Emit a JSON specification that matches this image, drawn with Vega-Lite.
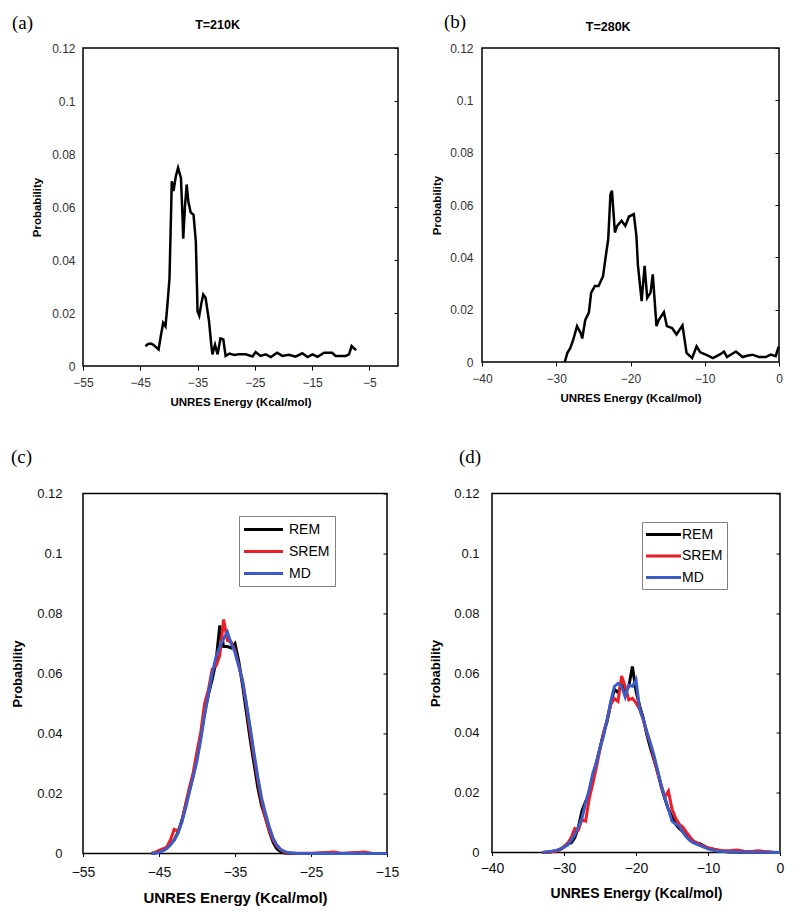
{
  "$schema": "https://vega.github.io/schema/vega-lite/v6.json",
  "padding": {"left": 10, "top": 12, "right": 5, "bottom": 5},
  "background": "white",
  "config": {
    "font": "Liberation Sans",
    "view": {"stroke": "black", "strokeWidth": 1.5},
    "axis": {"grid": false, "domain": false, "labelFont": "Liberation Sans", "titleFont": "Liberation Sans", "titleFontWeight": "bold", "titleColor": "black", "tickColor": "black", "labelFlush": false},
    "title": {"font": "Liberation Serif", "fontSize": 19, "fontWeight": "normal", "anchor": "start", "frame": "group", "baseline": "bottom", "color": "black"}
  },
  "datasets": {
    "a": [
      {"x": -44.1, "p": 0.0075}, {"x": -43.6, "p": 0.0083}, {"x": -43.2, "p": 0.0085}, {"x": -42.7, "p": 0.008}, {"x": -42.3, "p": 0.0072}, {"x": -41.8, "p": 0.0062},
      {"x": -41.4, "p": 0.0115}, {"x": -41.0, "p": 0.0163}, {"x": -40.6, "p": 0.015}, {"x": -40.3, "p": 0.022}, {"x": -39.9, "p": 0.033}, {"x": -39.6, "p": 0.06},
      {"x": -39.5, "p": 0.0697}, {"x": -39.2, "p": 0.066}, {"x": -38.8, "p": 0.0715}, {"x": -38.4, "p": 0.0748}, {"x": -37.9, "p": 0.071}, {"x": -37.6, "p": 0.055},
      {"x": -37.5, "p": 0.048}, {"x": -37.2, "p": 0.06}, {"x": -36.9, "p": 0.0685}, {"x": -36.6, "p": 0.062}, {"x": -36.2, "p": 0.058}, {"x": -35.7, "p": 0.057},
      {"x": -35.3, "p": 0.047}, {"x": -35.1, "p": 0.03}, {"x": -35.0, "p": 0.0207}, {"x": -34.7, "p": 0.019}, {"x": -34.3, "p": 0.024}, {"x": -34.0, "p": 0.027},
      {"x": -33.6, "p": 0.0258}, {"x": -33.0, "p": 0.017}, {"x": -32.6, "p": 0.008}, {"x": -32.4, "p": 0.0044}, {"x": -31.95, "p": 0.008}, {"x": -31.5, "p": 0.0044},
      {"x": -31.0, "p": 0.0104}, {"x": -30.5, "p": 0.01}, {"x": -30.1, "p": 0.0038}, {"x": -29.4, "p": 0.0047}, {"x": -28.6, "p": 0.0042}, {"x": -27.8, "p": 0.0044},
      {"x": -26.6, "p": 0.0044}, {"x": -25.4, "p": 0.0036}, {"x": -24.85, "p": 0.0053}, {"x": -24.0, "p": 0.0038}, {"x": -23.1, "p": 0.0044}, {"x": -22.2, "p": 0.0034},
      {"x": -21.1, "p": 0.005}, {"x": -20.2, "p": 0.0038}, {"x": -19.0, "p": 0.0042}, {"x": -17.9, "p": 0.0035}, {"x": -16.7, "p": 0.0048}, {"x": -15.8, "p": 0.0034},
      {"x": -14.95, "p": 0.0044}, {"x": -14.05, "p": 0.0035}, {"x": -12.9, "p": 0.005}, {"x": -11.5, "p": 0.005}, {"x": -10.9, "p": 0.0038}, {"x": -9.15, "p": 0.0038},
      {"x": -8.55, "p": 0.0044}, {"x": -8.1, "p": 0.0075}, {"x": -7.7, "p": 0.0067}, {"x": -7.3, "p": 0.006}
    ],
    "b": [
      {"x": -28.85, "p": 0}, {"x": -28.5, "p": 0.0035}, {"x": -28.1, "p": 0.0054}, {"x": -27.7, "p": 0.0086}, {"x": -27.2, "p": 0.0137}, {"x": -26.7, "p": 0.011},
      {"x": -26.5, "p": 0.009}, {"x": -26.1, "p": 0.016}, {"x": -25.6, "p": 0.019}, {"x": -25.3, "p": 0.0265}, {"x": -24.8, "p": 0.029}, {"x": -24.3, "p": 0.029},
      {"x": -23.7, "p": 0.0328}, {"x": -23.4, "p": 0.039}, {"x": -23.0, "p": 0.047}, {"x": -22.7, "p": 0.064}, {"x": -22.5, "p": 0.0655}, {"x": -22.1, "p": 0.0495},
      {"x": -21.8, "p": 0.052}, {"x": -21.2, "p": 0.054}, {"x": -20.7, "p": 0.052}, {"x": -20.2, "p": 0.0556}, {"x": -19.55, "p": 0.0565}, {"x": -19.2, "p": 0.048},
      {"x": -19.0, "p": 0.037}, {"x": -18.5, "p": 0.0233}, {"x": -18.1, "p": 0.0367}, {"x": -17.75, "p": 0.0245}, {"x": -17.3, "p": 0.0265}, {"x": -17.0, "p": 0.0335},
      {"x": -16.5, "p": 0.0137}, {"x": -16.2, "p": 0.016}, {"x": -15.5, "p": 0.019}, {"x": -15.1, "p": 0.0137}, {"x": -14.4, "p": 0.013}, {"x": -13.8, "p": 0.0105},
      {"x": -13.0, "p": 0.014}, {"x": -12.45, "p": 0.0035}, {"x": -11.7, "p": 0.0015}, {"x": -11.1, "p": 0.006}, {"x": -10.6, "p": 0.0037}, {"x": -9.7, "p": 0.0026},
      {"x": -8.9, "p": 0.0015}, {"x": -7.9, "p": 0.003}, {"x": -7.4, "p": 0.004}, {"x": -7.0, "p": 0.0019}, {"x": -5.8, "p": 0.004}, {"x": -4.9, "p": 0.0019},
      {"x": -4.3, "p": 0.0024}, {"x": -3.6, "p": 0.0028}, {"x": -2.7, "p": 0.0019}, {"x": -1.8, "p": 0.0019}, {"x": -1.1, "p": 0.0028}, {"x": -0.45, "p": 0.0022},
      {"x": -0.1, "p": 0.0054}, {"x": 0, "p": 0.0058}
    ],
    "c": [
      {"s": "REM", "x": -46, "p": 0}, {"s": "REM", "x": -45.5, "p": 0.0002}, {"s": "REM", "x": -45, "p": 0.0006}, {"s": "REM", "x": -44.5, "p": 0.0012},
      {"s": "REM", "x": -44, "p": 0.002}, {"s": "REM", "x": -43.5, "p": 0.003}, {"s": "REM", "x": -43, "p": 0.0045}, {"s": "REM", "x": -42.5, "p": 0.007},
      {"s": "REM", "x": -42, "p": 0.011}, {"s": "REM", "x": -41.5, "p": 0.016}, {"s": "REM", "x": -41, "p": 0.021}, {"s": "REM", "x": -40.5, "p": 0.026},
      {"s": "REM", "x": -40, "p": 0.032}, {"s": "REM", "x": -39.5, "p": 0.039}, {"s": "REM", "x": -39, "p": 0.047}, {"s": "REM", "x": -38.5, "p": 0.053},
      {"s": "REM", "x": -38, "p": 0.058}, {"s": "REM", "x": -37.5, "p": 0.064}, {"s": "REM", "x": -37, "p": 0.076}, {"s": "REM", "x": -36.5, "p": 0.069},
      {"s": "REM", "x": -36, "p": 0.069}, {"s": "REM", "x": -35.5, "p": 0.0685}, {"s": "REM", "x": -35, "p": 0.07}, {"s": "REM", "x": -34.5, "p": 0.064},
      {"s": "REM", "x": -34, "p": 0.056}, {"s": "REM", "x": -33.5, "p": 0.047}, {"s": "REM", "x": -33, "p": 0.038}, {"s": "REM", "x": -32.5, "p": 0.03},
      {"s": "REM", "x": -32, "p": 0.022}, {"s": "REM", "x": -31.5, "p": 0.016}, {"s": "REM", "x": -31, "p": 0.012}, {"s": "REM", "x": -30.5, "p": 0.0075},
      {"s": "REM", "x": -30, "p": 0.0038}, {"s": "REM", "x": -29.5, "p": 0.0016}, {"s": "REM", "x": -29, "p": 0.0006}, {"s": "REM", "x": -28.5, "p": 0.0002},
      {"s": "REM", "x": -28, "p": 0.0001}, {"s": "REM", "x": -25, "p": 0}, {"s": "REM", "x": -20, "p": 0}, {"s": "REM", "x": -15, "p": 0},
      {"s": "SREM", "x": -46, "p": 0}, {"s": "SREM", "x": -45.5, "p": 0.0004}, {"s": "SREM", "x": -45, "p": 0.001}, {"s": "SREM", "x": -44.5, "p": 0.0015},
      {"s": "SREM", "x": -44, "p": 0.002}, {"s": "SREM", "x": -43.5, "p": 0.0045}, {"s": "SREM", "x": -43, "p": 0.008}, {"s": "SREM", "x": -42.5, "p": 0.0075},
      {"s": "SREM", "x": -42, "p": 0.0105}, {"s": "SREM", "x": -41.5, "p": 0.0165}, {"s": "SREM", "x": -41, "p": 0.022}, {"s": "SREM", "x": -40.5, "p": 0.027},
      {"s": "SREM", "x": -40, "p": 0.034}, {"s": "SREM", "x": -39.5, "p": 0.0405}, {"s": "SREM", "x": -39, "p": 0.05}, {"s": "SREM", "x": -38.5, "p": 0.0545},
      {"s": "SREM", "x": -38, "p": 0.0615}, {"s": "SREM", "x": -37.5, "p": 0.0625}, {"s": "SREM", "x": -37, "p": 0.066}, {"s": "SREM", "x": -36.5, "p": 0.078},
      {"s": "SREM", "x": -36, "p": 0.071}, {"s": "SREM", "x": -35.5, "p": 0.0705}, {"s": "SREM", "x": -35, "p": 0.0675}, {"s": "SREM", "x": -34.5, "p": 0.0625},
      {"s": "SREM", "x": -34, "p": 0.0575}, {"s": "SREM", "x": -33.5, "p": 0.0495}, {"s": "SREM", "x": -33, "p": 0.0405}, {"s": "SREM", "x": -32.5, "p": 0.0325},
      {"s": "SREM", "x": -32, "p": 0.0245}, {"s": "SREM", "x": -31.5, "p": 0.0175}, {"s": "SREM", "x": -31, "p": 0.012}, {"s": "SREM", "x": -30.5, "p": 0.0078},
      {"s": "SREM", "x": -30, "p": 0.0045}, {"s": "SREM", "x": -29.5, "p": 0.0025}, {"s": "SREM", "x": -29, "p": 0.0012}, {"s": "SREM", "x": -28.5, "p": 0.0005},
      {"s": "SREM", "x": -28, "p": 0.0002}, {"s": "SREM", "x": -27, "p": 0.0001}, {"s": "SREM", "x": -25, "p": 0.0001}, {"s": "SREM", "x": -22.5, "p": 0.0004},
      {"s": "SREM", "x": -22, "p": 0.0005}, {"s": "SREM", "x": -21, "p": 0.0001}, {"s": "SREM", "x": -18.5, "p": 0.0004}, {"s": "SREM", "x": -18, "p": 0.0005},
      {"s": "SREM", "x": -17, "p": 0.0001}, {"s": "SREM", "x": -15, "p": 0},
      {"s": "MD", "x": -46, "p": 0}, {"s": "MD", "x": -45.5, "p": 0.0001}, {"s": "MD", "x": -45, "p": 0.0004}, {"s": "MD", "x": -44.5, "p": 0.0009},
      {"s": "MD", "x": -44, "p": 0.0016}, {"s": "MD", "x": -43.5, "p": 0.0028}, {"s": "MD", "x": -43, "p": 0.0045}, {"s": "MD", "x": -42.5, "p": 0.0068},
      {"s": "MD", "x": -42, "p": 0.0105}, {"s": "MD", "x": -41.5, "p": 0.015}, {"s": "MD", "x": -41, "p": 0.0205}, {"s": "MD", "x": -40.5, "p": 0.0255},
      {"s": "MD", "x": -40, "p": 0.031}, {"s": "MD", "x": -39.5, "p": 0.038}, {"s": "MD", "x": -39, "p": 0.046}, {"s": "MD", "x": -38.5, "p": 0.053},
      {"s": "MD", "x": -38, "p": 0.06}, {"s": "MD", "x": -37.5, "p": 0.0655}, {"s": "MD", "x": -37, "p": 0.069}, {"s": "MD", "x": -36.5, "p": 0.0715},
      {"s": "MD", "x": -36, "p": 0.0738}, {"s": "MD", "x": -35.5, "p": 0.07}, {"s": "MD", "x": -35, "p": 0.067}, {"s": "MD", "x": -34.5, "p": 0.0625},
      {"s": "MD", "x": -34, "p": 0.0575}, {"s": "MD", "x": -33.5, "p": 0.05}, {"s": "MD", "x": -33, "p": 0.042}, {"s": "MD", "x": -32.5, "p": 0.0335},
      {"s": "MD", "x": -32, "p": 0.0255}, {"s": "MD", "x": -31.5, "p": 0.0185}, {"s": "MD", "x": -31, "p": 0.0135}, {"s": "MD", "x": -30.5, "p": 0.009},
      {"s": "MD", "x": -30, "p": 0.0052}, {"s": "MD", "x": -29.5, "p": 0.0028}, {"s": "MD", "x": -29, "p": 0.0014}, {"s": "MD", "x": -28.5, "p": 0.0007},
      {"s": "MD", "x": -28, "p": 0.0003}, {"s": "MD", "x": -27, "p": 0.0001}, {"s": "MD", "x": -25, "p": 0}, {"s": "MD", "x": -20, "p": 0}, {"s": "MD", "x": -15, "p": 0}
    ],
    "d": [
      {"s": "REM", "x": -33, "p": 0}, {"s": "REM", "x": -32, "p": 0.0002}, {"s": "REM", "x": -31, "p": 0.0006}, {"s": "REM", "x": -30.5, "p": 0.001},
      {"s": "REM", "x": -30, "p": 0.0018}, {"s": "REM", "x": -29.5, "p": 0.003}, {"s": "REM", "x": -29, "p": 0.0032}, {"s": "REM", "x": -28.5, "p": 0.005},
      {"s": "REM", "x": -28, "p": 0.0085}, {"s": "REM", "x": -27.5, "p": 0.014}, {"s": "REM", "x": -27, "p": 0.017}, {"s": "REM", "x": -26.5, "p": 0.0195},
      {"s": "REM", "x": -26, "p": 0.025}, {"s": "REM", "x": -25.5, "p": 0.03}, {"s": "REM", "x": -25, "p": 0.035}, {"s": "REM", "x": -24.5, "p": 0.04},
      {"s": "REM", "x": -24, "p": 0.044}, {"s": "REM", "x": -23.5, "p": 0.05}, {"s": "REM", "x": -23, "p": 0.0545}, {"s": "REM", "x": -22.5, "p": 0.0535},
      {"s": "REM", "x": -22, "p": 0.056}, {"s": "REM", "x": -21.5, "p": 0.054}, {"s": "REM", "x": -21, "p": 0.0555}, {"s": "REM", "x": -20.5, "p": 0.0622},
      {"s": "REM", "x": -20, "p": 0.054}, {"s": "REM", "x": -19.5, "p": 0.049}, {"s": "REM", "x": -19, "p": 0.045}, {"s": "REM", "x": -18.5, "p": 0.0395},
      {"s": "REM", "x": -18, "p": 0.035}, {"s": "REM", "x": -17.5, "p": 0.031}, {"s": "REM", "x": -17, "p": 0.027}, {"s": "REM", "x": -16.5, "p": 0.022},
      {"s": "REM", "x": -16, "p": 0.018}, {"s": "REM", "x": -15.5, "p": 0.0145}, {"s": "REM", "x": -15, "p": 0.012}, {"s": "REM", "x": -14.5, "p": 0.0095},
      {"s": "REM", "x": -14, "p": 0.008}, {"s": "REM", "x": -13.5, "p": 0.007}, {"s": "REM", "x": -13, "p": 0.006}, {"s": "REM", "x": -12.5, "p": 0.0045},
      {"s": "REM", "x": -12, "p": 0.0035}, {"s": "REM", "x": -11, "p": 0.0028}, {"s": "REM", "x": -10, "p": 0.0014}, {"s": "REM", "x": -9, "p": 0.0009},
      {"s": "REM", "x": -8, "p": 0.0004}, {"s": "REM", "x": -7, "p": 0.0002}, {"s": "REM", "x": -5, "p": 0.0001}, {"s": "REM", "x": -2, "p": 0.0001}, {"s": "REM", "x": 0, "p": 0},
      {"s": "SREM", "x": -33, "p": 0}, {"s": "SREM", "x": -32, "p": 0.0002}, {"s": "SREM", "x": -31, "p": 0.0005}, {"s": "SREM", "x": -30.5, "p": 0.0012},
      {"s": "SREM", "x": -30, "p": 0.002}, {"s": "SREM", "x": -29.5, "p": 0.003}, {"s": "SREM", "x": -29, "p": 0.005}, {"s": "SREM", "x": -28.5, "p": 0.008},
      {"s": "SREM", "x": -28, "p": 0.0075}, {"s": "SREM", "x": -27.5, "p": 0.011}, {"s": "SREM", "x": -27, "p": 0.0105}, {"s": "SREM", "x": -26.5, "p": 0.018},
      {"s": "SREM", "x": -26, "p": 0.023}, {"s": "SREM", "x": -25.5, "p": 0.0285}, {"s": "SREM", "x": -25, "p": 0.0345}, {"s": "SREM", "x": -24.5, "p": 0.04},
      {"s": "SREM", "x": -24, "p": 0.0445}, {"s": "SREM", "x": -23.5, "p": 0.0495}, {"s": "SREM", "x": -23, "p": 0.0515}, {"s": "SREM", "x": -22.5, "p": 0.0505},
      {"s": "SREM", "x": -22, "p": 0.059}, {"s": "SREM", "x": -21.5, "p": 0.0555}, {"s": "SREM", "x": -21, "p": 0.051}, {"s": "SREM", "x": -20.5, "p": 0.0515},
      {"s": "SREM", "x": -20, "p": 0.05}, {"s": "SREM", "x": -19.5, "p": 0.048}, {"s": "SREM", "x": -19, "p": 0.0445}, {"s": "SREM", "x": -18.5, "p": 0.04},
      {"s": "SREM", "x": -18, "p": 0.0365}, {"s": "SREM", "x": -17.5, "p": 0.0315}, {"s": "SREM", "x": -17, "p": 0.0265}, {"s": "SREM", "x": -16.5, "p": 0.0225},
      {"s": "SREM", "x": -16, "p": 0.0185}, {"s": "SREM", "x": -15.5, "p": 0.0205}, {"s": "SREM", "x": -15, "p": 0.0145}, {"s": "SREM", "x": -14.5, "p": 0.0115},
      {"s": "SREM", "x": -14, "p": 0.0095}, {"s": "SREM", "x": -13.5, "p": 0.0085}, {"s": "SREM", "x": -13, "p": 0.0068}, {"s": "SREM", "x": -12.5, "p": 0.0052},
      {"s": "SREM", "x": -12, "p": 0.0038}, {"s": "SREM", "x": -11, "p": 0.0025}, {"s": "SREM", "x": -10, "p": 0.0016}, {"s": "SREM", "x": -9, "p": 0.001},
      {"s": "SREM", "x": -8, "p": 0.0006}, {"s": "SREM", "x": -7, "p": 0.0006}, {"s": "SREM", "x": -6, "p": 0.0008}, {"s": "SREM", "x": -5, "p": 0.0004},
      {"s": "SREM", "x": -4, "p": 0.0003}, {"s": "SREM", "x": -3, "p": 0.0006}, {"s": "SREM", "x": -2, "p": 0.0003}, {"s": "SREM", "x": -1, "p": 0.0001}, {"s": "SREM", "x": 0, "p": 0},
      {"s": "MD", "x": -33, "p": 0}, {"s": "MD", "x": -32, "p": 0.0003}, {"s": "MD", "x": -31, "p": 0.0008}, {"s": "MD", "x": -30.5, "p": 0.0012},
      {"s": "MD", "x": -30, "p": 0.0018}, {"s": "MD", "x": -29.5, "p": 0.0025}, {"s": "MD", "x": -29, "p": 0.004}, {"s": "MD", "x": -28.5, "p": 0.006},
      {"s": "MD", "x": -28, "p": 0.0085}, {"s": "MD", "x": -27.5, "p": 0.0115}, {"s": "MD", "x": -27, "p": 0.0165}, {"s": "MD", "x": -26.5, "p": 0.021},
      {"s": "MD", "x": -26, "p": 0.0265}, {"s": "MD", "x": -25.5, "p": 0.03}, {"s": "MD", "x": -25, "p": 0.035}, {"s": "MD", "x": -24.5, "p": 0.039},
      {"s": "MD", "x": -24, "p": 0.0445}, {"s": "MD", "x": -23.5, "p": 0.0505}, {"s": "MD", "x": -23, "p": 0.0555}, {"s": "MD", "x": -22.5, "p": 0.0565},
      {"s": "MD", "x": -22, "p": 0.0555}, {"s": "MD", "x": -21.5, "p": 0.052}, {"s": "MD", "x": -21, "p": 0.056}, {"s": "MD", "x": -20.5, "p": 0.0555},
      {"s": "MD", "x": -20, "p": 0.0577}, {"s": "MD", "x": -19.5, "p": 0.048}, {"s": "MD", "x": -19, "p": 0.0445}, {"s": "MD", "x": -18.5, "p": 0.0405},
      {"s": "MD", "x": -18, "p": 0.0365}, {"s": "MD", "x": -17.5, "p": 0.0325}, {"s": "MD", "x": -17, "p": 0.0275}, {"s": "MD", "x": -16.5, "p": 0.0225},
      {"s": "MD", "x": -16, "p": 0.0185}, {"s": "MD", "x": -15.5, "p": 0.0145}, {"s": "MD", "x": -15, "p": 0.0105}, {"s": "MD", "x": -14.5, "p": 0.0095},
      {"s": "MD", "x": -14, "p": 0.0088}, {"s": "MD", "x": -13.5, "p": 0.0068}, {"s": "MD", "x": -13, "p": 0.0052}, {"s": "MD", "x": -12.5, "p": 0.004},
      {"s": "MD", "x": -12, "p": 0.0032}, {"s": "MD", "x": -11, "p": 0.0022}, {"s": "MD", "x": -10, "p": 0.0012}, {"s": "MD", "x": -9, "p": 0.0006},
      {"s": "MD", "x": -8, "p": 0.0003}, {"s": "MD", "x": -6, "p": 0.0002}, {"s": "MD", "x": -3, "p": 0.0001}, {"s": "MD", "x": 0, "p": 0}
    ],
    "ta": [{"label": "T=210K"}],
    "tb": [{"label": "T=280K"}],
    "zero": [{"p": 0}]
  },
  "bounds": "flush",
  "spacing": 445.5,
  "vconcat": [
    {
      "bounds": "flush",
      "spacing": 84,
      "hconcat": [
        {
          "width": 315, "height": 318,
          "title": {"text": "(a)", "dx": -71, "offset": -14.25},
          "resolve": {"axis": {"x": "independent", "y": "independent"}},
          "layer": [
            {
              "data": {"name": "a"},
              "mark": {"type": "line", "color": "black", "strokeWidth": 2.5},
              "encoding": {
                "x": {"field": "x", "type": "quantitative", "scale": {"domain": [-55, 0], "nice": false, "zero": false},
                      "axis": {"values": [-55, -45, -35, -25, -15, -5], "title": "UNRES Energy (Kcal/mol)", "titleFontSize": 11.5, "labelFontSize": 12, "labelColor": "#333", "tickSize": 4, "labelPadding": 7, "titlePadding": 8}},
                "y": {"field": "p", "type": "quantitative", "scale": {"domain": [0, 0.12], "nice": false},
                      "axis": {"values": [0, 0.02, 0.04, 0.06, 0.08, 0.1, 0.12], "labelExpr": "'' + datum.value", "title": "Probability", "titleFontSize": 11.5, "labelFontSize": 12, "labelColor": "#333", "ticks": false, "tickSize": 0, "labelPadding": 8, "titlePadding": 9}}
              }
            },
            {
              "data": {"name": "ta"},
              "mark": {"type": "text", "font": "Liberation Sans", "fontWeight": "bold", "fontSize": 12.5, "align": "center", "baseline": "middle", "color": "black"},
              "encoding": {
                "x": {"datum": -31.5, "type": "quantitative", "axis": null},
                "y": {"datum": 0.1287, "type": "quantitative",
                      "axis": {"orient": "right", "values": [0.02, 0.04, 0.06, 0.08, 0.1, 0.12], "labels": false, "title": null, "ticks": true, "tickSize": -4, "domain": false}},
                "text": {"field": "label"}
              }
            }
          ]
        },
        {
          "width": 297, "height": 314,
          "title": {"text": "(b)", "dx": -38, "offset": -11.75},
          "resolve": {"axis": {"x": "independent", "y": "independent"}},
          "layer": [
            {
              "data": {"name": "b"},
              "mark": {"type": "line", "color": "black", "strokeWidth": 2.5},
              "encoding": {
                "x": {"field": "x", "type": "quantitative", "scale": {"domain": [-40, 0], "nice": false, "zero": false},
                      "axis": {"values": [-40, -30, -20, -10, 0], "title": "UNRES Energy (Kcal/mol)", "titleFontSize": 11.5, "labelFontSize": 12, "labelColor": "#333", "tickSize": 4, "labelPadding": 7, "titlePadding": 8}},
                "y": {"field": "p", "type": "quantitative", "scale": {"domain": [0, 0.12], "nice": false},
                      "axis": {"values": [0, 0.02, 0.04, 0.06, 0.08, 0.1, 0.12], "labelExpr": "'' + datum.value", "title": "Probability", "titleFontSize": 11.5, "labelFontSize": 12, "labelColor": "#333", "ticks": false, "tickSize": 0, "labelPadding": 9, "titlePadding": 7}}
              }
            },
            {
              "data": {"name": "tb"},
              "mark": {"type": "text", "font": "Liberation Sans", "fontWeight": "bold", "fontSize": 12.5, "align": "center", "baseline": "middle", "color": "black"},
              "encoding": {
                "x": {"datum": -23.0, "type": "quantitative", "axis": null},
                "y": {"datum": 0.1282, "type": "quantitative",
                      "axis": {"orient": "right", "values": [0.02, 0.04, 0.06, 0.08, 0.1, 0.12], "labels": false, "title": null, "ticks": true, "tickSize": -4, "domain": false}},
                "text": {"field": "label"}
              }
            }
          ]
        }
      ]
    },
    {
      "bounds": "flush",
      "spacing": 105,
      "resolve": {"scale": {"color": "independent"}, "legend": {"color": "independent"}},
      "hconcat": [
        {
          "width": 304, "height": 360,
          "title": {"text": "(c)", "dx": -72, "offset": 21},
          "resolve": {"axis": {"y": "independent"}},
          "layer": [
            {
              "data": {"name": "c"},
              "mark": {"type": "line", "strokeWidth": 3},
              "encoding": {
                "x": {"field": "x", "type": "quantitative", "scale": {"domain": [-55, -15], "nice": false, "zero": false},
                      "axis": {"values": [-55, -45, -35, -25, -15], "title": "UNRES Energy (Kcal/mol)", "titleFontSize": 15, "labelFontSize": 14, "labelColor": "#111", "tickSize": 3, "labelPadding": 9, "titlePadding": 11}},
                "y": {"field": "p", "type": "quantitative", "scale": {"domain": [0, 0.12], "nice": false},
                      "axis": {"values": [0, 0.02, 0.04, 0.06, 0.08, 0.1, 0.12], "labelExpr": "'' + datum.value", "title": "Probability", "titleFontSize": 13, "labelFontSize": 13, "labelColor": "#111", "ticks": false, "tickSize": 0, "labelPadding": 21, "titlePadding": 12}},
                "color": {"field": "s", "type": "nominal",
                          "scale": {"domain": ["REM", "SREM", "MD"], "range": ["#000000", "#ee1c24", "#3b5bc6"]},
                          "legend": {"orient": "none", "legendX": 156, "legendY": 22.5, "title": null, "strokeColor": "#85807c", "fillColor": "white", "padding": 5,
                                     "symbolType": "M-2.7857,0H2.7857", "symbolSize": 196, "symbolStrokeWidth": 3, "symbolOffset": 11, "labelOffset": 17, "rowPadding": 6,
                                     "labelFontSize": 14, "labelFont": "Liberation Sans", "labelColor": "black", "direction": "vertical"}}
              }
            },
            {
              "data": {"name": "zero"},
              "mark": {"type": "rule", "opacity": 0},
              "encoding": {
                "y": {"field": "p", "type": "quantitative",
                      "axis": {"orient": "right", "values": [0.02, 0.04, 0.06, 0.08, 0.1, 0.12], "labels": false, "title": null, "ticks": true, "tickSize": -4, "domain": false}}
              }
            }
          ]
        },
        {
          "width": 288, "height": 359,
          "title": {"text": "(d)", "dx": -33, "offset": 21},
          "resolve": {"axis": {"y": "independent"}},
          "layer": [
            {
              "data": {"name": "d"},
              "mark": {"type": "line", "strokeWidth": 3},
              "encoding": {
                "x": {"field": "x", "type": "quantitative", "scale": {"domain": [-40, 0], "nice": false, "zero": false},
                      "axis": {"values": [-40, -30, -20, -10, 0], "title": "UNRES Energy (Kcal/mol)", "titleFontSize": 14, "labelFontSize": 14, "labelColor": "#111", "tickSize": 3, "labelPadding": 6, "titlePadding": 11}},
                "y": {"field": "p", "type": "quantitative", "scale": {"domain": [0, 0.12], "nice": false},
                      "axis": {"values": [0, 0.02, 0.04, 0.06, 0.08, 0.1, 0.12], "labelExpr": "'' + datum.value", "title": "Probability", "titleFontSize": 13, "labelFontSize": 13, "labelColor": "#111", "ticks": false, "tickSize": 0, "labelPadding": 13, "titlePadding": 11}},
                "color": {"field": "s", "type": "nominal",
                          "scale": {"domain": ["REM", "SREM", "MD"], "range": ["#000000", "#ee1c24", "#3b5bc6"]},
                          "legend": {"orient": "none", "legendX": 150, "legendY": 28.5, "title": null, "strokeColor": "#85807c", "fillColor": "white", "padding": 4,
                                     "symbolType": "M-2.5,0H2.5", "symbolSize": 196, "symbolStrokeWidth": 3, "symbolOffset": 9, "labelOffset": 10, "rowPadding": 5.5,
                                     "labelFontSize": 14, "labelFont": "Liberation Sans", "labelColor": "black", "direction": "vertical"}}
              }
            },
            {
              "data": {"name": "zero"},
              "mark": {"type": "rule", "opacity": 0},
              "encoding": {
                "y": {"field": "p", "type": "quantitative",
                      "axis": {"orient": "right", "values": [0.02, 0.04, 0.06, 0.08, 0.1, 0.12], "labels": false, "title": null, "ticks": true, "tickSize": -4, "domain": false}}
              }
            }
          ]
        }
      ]
    }
  ]
}
